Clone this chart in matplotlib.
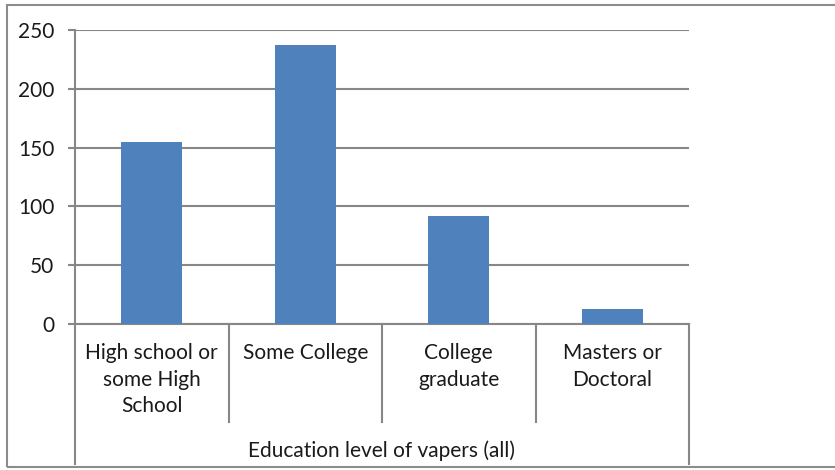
import matplotlib.pyplot as plt
from matplotlib.patches import Rectangle

plt.rcParams['font.family'] = ['Lato', 'DejaVu Sans']

categories = ["High school or\nsome High\nSchool", "Some College",
              "College\ngraduate", "Masters or\nDoctoral"]
counts = [155, 237, 92, 13]
group_label = "Education level of vapers (all)"
y_ticks = [0, 50, 100, 150, 200, 250]

W, H = 835, 470
fig = plt.figure(figsize=(W / 100, H / 100), dpi=100)

# plot area in pixels: x 75..689, y 30..324
ax = fig.add_axes([75 / W, (H - 324) / H, 614 / W, 294 / H])

grey = "#878787"
x = range(len(counts))
ax.bar(x, counts, width=0.4, color="#4F81BD", zorder=3)

ax.set_xlim(-0.5, len(counts) - 0.5)
ax.set_ylim(0, 250)
ax.set_yticks(y_ticks)
ax.yaxis.grid(True, color=grey, linewidth=1.5)
ax.set_axisbelow(True)
ax.tick_params(axis="y", length=5, width=1.5, color=grey, pad=10,
               labelsize=15, labelcolor="#1a1a1a")
ax.set_xticks([])

for side in ("top", "right"):
    ax.spines[side].set_visible(False)
for side in ("left", "bottom"):
    ax.spines[side].set_color(grey)
    ax.spines[side].set_linewidth(1.5)

# category axis: separators and labels below the plot
trans = ax.get_xaxis_transform()
short_y = (324 - 422) / 294
long_y = (324 - 464) / 294
for b in range(len(counts) + 1):
    edge = b - 0.5
    low = long_y if b in (0, len(counts)) else short_y
    ax.plot([edge, edge], [0, low], color=grey, linewidth=1.5,
            transform=trans, clip_on=False)

top_y = (324 - 343) / 294
for i, lab in enumerate(categories):
    ax.text(i, top_y, lab, transform=trans, ha="center", va="top",
            fontsize=15, linespacing=1.42, color="#1a1a1a")

ax.text(1.5, (324 - 451) / 294, group_label, transform=trans,
        ha="center", va="center", fontsize=15, color="#1a1a1a")

# outer chart frame
fig.patches.append(Rectangle((7 / W, 3 / H), 1.0, (H - 8) / H,
                             transform=fig.transFigure, fill=False,
                             edgecolor="#8c8c8c", linewidth=1.5))

fig.savefig("out.png", dpi=100)
